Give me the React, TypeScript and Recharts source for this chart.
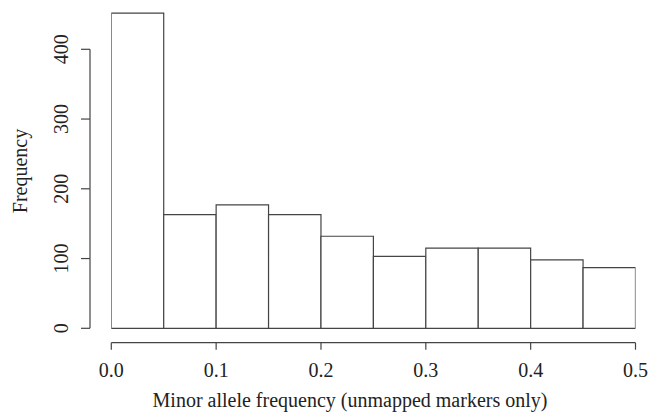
import { BarChart, Bar, XAxis, YAxis } from 'recharts';

// histogram bins (left edges) and counts
const binStarts = [0.0, 0.05, 0.1, 0.15, 0.2, 0.25, 0.3, 0.35, 0.4, 0.45];
const counts = [452, 163, 177, 163, 132, 103, 115, 115, 98, 87];
const binWidth = 0.05;
const xTicks = [0, 0.1, 0.2, 0.3, 0.4, 0.5];
const xTickLabels = ['0.0', '0.1', '0.2', '0.3', '0.4', '0.5'];
const yTicks = [0, 100, 200, 300, 400];

const data = binStarts.map((s, i) => ({ mid: s + binWidth / 2, count: counts[i] }));

// layout (px)
const W = 651;
const H = 419;
const PLOT_LEFT = 111.3;
const PLOT_RIGHT = 635.5;
const ZERO_Y = 328.3;
const PX_PER_UNIT = 0.6975;
const PLOT_BOTTOM = 342.7;
const X_AXIS_H = 60;
const AXIS_X = 90;
const Y_MAX = ZERO_Y / PX_PER_UNIT;
const Y_MIN = -(PLOT_BOTTOM - ZERO_Y) / PX_PER_UNIT;
// just under the band size, otherwise recharts shrinks bars to 90%
const BAR_PX = (PLOT_RIGHT - PLOT_LEFT) / 10 - 0.01;

const FONT = '"Liberation Serif", "DejaVu Serif", serif';
const INK = '#444';

const YTick = ({ y, payload }: any) => {
  const last = payload.value >= yTicks[yTicks.length - 1];
  return (
    <g>
      <line x1={AXIS_X - 9} x2={AXIS_X} y1={y} y2={y} stroke={INK} strokeWidth={1.2} />
      {!last && (
        <line x1={AXIS_X} x2={AXIS_X} y1={y} y2={y - 100 * PX_PER_UNIT} stroke={INK} strokeWidth={1.2} />
      )}
      <text
        x={68}
        y={y}
        transform={`rotate(-90, 68, ${y})`}
        textAnchor="middle"
        fontFamily={FONT}
        fontSize={20}
        fill="#222"
      >
        {payload.value}
      </text>
    </g>
  );
};

const XTick = ({ x, y, payload, index }: any) => (
  <text x={x} y={y + 27} textAnchor="middle" fontFamily={FONT} fontSize={20} fill="#222">
    {xTickLabels[index] ?? payload.value}
  </text>
);

const App = () => {
  return (
    <div style={{ position: 'absolute', left: 0, top: 0, background: '#fff' }}>
      <BarChart
        width={W}
        height={H}
        data={data}
        margin={{ top: 0, right: W - PLOT_RIGHT, left: 0, bottom: H - PLOT_BOTTOM - X_AXIS_H }}
        barCategoryGap={0}
        barGap={0}
      >
        <XAxis
          dataKey="mid"
          type="number"
          domain={[0, 0.5]}
          ticks={xTicks}
          allowDataOverflow
          height={X_AXIS_H}
          axisLine={{ stroke: INK, strokeWidth: 1.2 }}
          tickLine={{ stroke: INK, strokeWidth: 1.2 }}
          tickSize={7}
          tickMargin={0}
          tick={<XTick />}
          interval={0}
          label={{
            content: () => (
              <text x={350} y={407} textAnchor="middle" fontFamily={FONT} fontSize={20} fill="#222">
                Minor allele frequency (unmapped markers only)
              </text>
            ),
          }}
        />
        <YAxis
          type="number"
          domain={[Y_MIN, Y_MAX]}
          ticks={yTicks}
          allowDataOverflow
          width={PLOT_LEFT}
          axisLine={false}
          tickLine={false}
          tick={<YTick />}
          interval={0}
          label={{
            content: () => (
              <text
                x={27}
                y={171}
                transform="rotate(-90, 27, 171)"
                textAnchor="middle"
                fontFamily={FONT}
                fontSize={20}
                fill="#222"
              >
                Frequency
              </text>
            ),
          }}
        />
        <Bar
          dataKey="count"
          fill="#fff"
          stroke={INK}
          strokeWidth={1.2}
          barSize={BAR_PX}
          isAnimationActive={false}
        />
      </BarChart>
    </div>
  );
};

export default App;
